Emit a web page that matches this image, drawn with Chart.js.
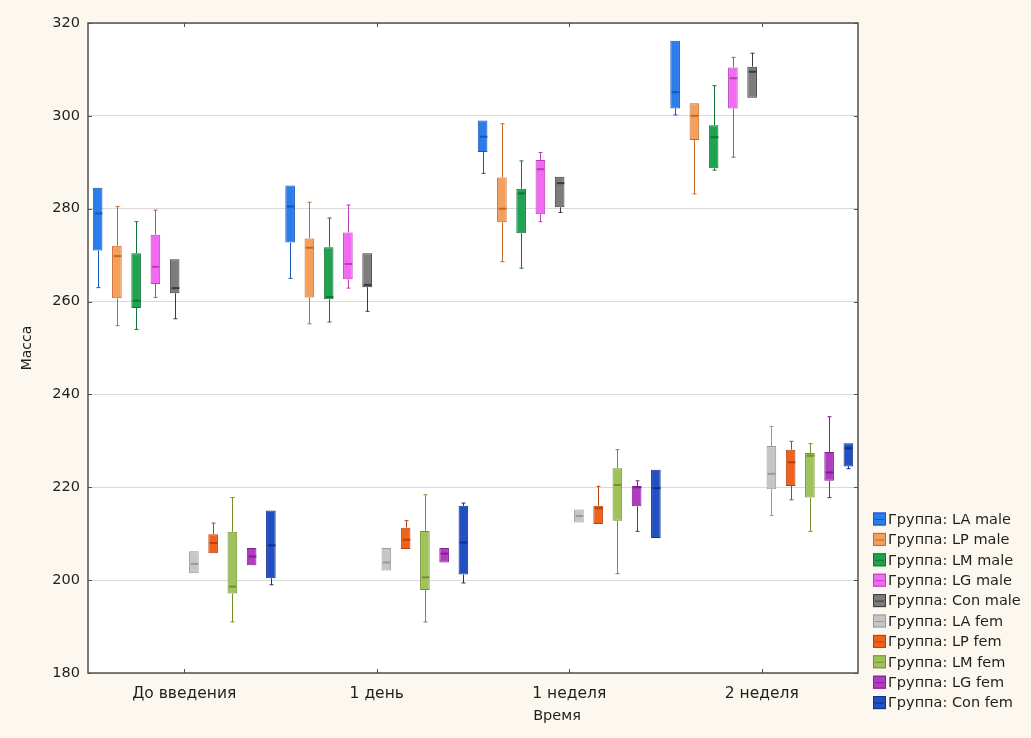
<!DOCTYPE html>
<html>
<head>
<meta charset="utf-8">
<script src="https://cdn.jsdelivr.net/npm/chart.js@4/dist/chart.umd.min.js"></script>
<style>
  html, body { margin: 0; padding: 0; background: #fcf8ef; }
  #wrap { width: 1031px; height: 738px; }
</style>
</head>
<body>
<div id="wrap"><canvas id="massChart" width="1031" height="738"></canvas></div>
<script>
// === Data: each entry is [min, q1, median, q3, max] per time point ===
const timePoints = ['До введения', '1 день', '1 неделя', '2 неделя'];
const yTicks = [180, 200, 220, 240, 260, 280, 300, 320];

const laMale  = [[263, 271, 279, 284.5, 284.5], [265, 272.7, 280.5, 285, 285], [287.6, 292.2, 295.5, 299, 299], [300.2, 301.6, 305.1, 316.2, 316.2]];
const lpMale  = [[254.8, 260.7, 269.8, 272, 280.5], [255.2, 260.9, 271.6, 273.6, 281.4], [268.6, 277.1, 280, 286.7, 298.3], [283.2, 294.8, 300, 302.7, 302.7]];
const lmMale  = [[254, 258.6, 260.2, 270.4, 277.2], [255.6, 260.5, 261, 271.7, 278], [267.2, 274.7, 283.3, 284.3, 290.3], [288.3, 288.7, 295.4, 298, 306.5]];
const lgMale  = [[260.9, 263.8, 267.5, 274.4, 279.7], [262.9, 264.8, 268.1, 274.9, 280.8], [277.2, 278.8, 288.5, 290.5, 292.1], [291.1, 301.6, 308.1, 310.4, 312.6]];
const conMale = [[256.3, 261.8, 262.9, 269.1, 269.1], [257.9, 263.1, 263.6, 270.4, 270.4], [279.2, 280.3, 285.5, 286.9, 286.9], [303.9, 303.9, 309.5, 310.6, 313.5]];
const laFem   = [[201.5, 201.5, 203.5, 206.2, 206.2], [202.1, 202.1, 203.8, 206.9, 206.9], [212.4, 212.4, 213.8, 215.2, 215.2], [213.9, 219.6, 222.9, 228.9, 233.1]];
const lpFem   = [[205.8, 205.8, 208, 209.9, 212.3], [206.7, 206.7, 208.7, 211.3, 212.8], [212.1, 212.1, 215.5, 216, 220.2], [217.3, 220.3, 225.4, 228.1, 229.9]];
const lmFem   = [[191, 197.1, 198.6, 210.4, 217.8], [191, 197.9, 200.6, 210.6, 218.4], [201.4, 212.8, 220.5, 224.1, 228.1], [210.5, 217.8, 226.8, 227.4, 229.4]];
const lgFem   = [[203.2, 203.2, 205.1, 206.9, 206.9], [203.8, 203.8, 205.7, 206.9, 206.9], [210.5, 215.9, 220, 220.3, 221.4], [217.8, 221.4, 223.2, 227.6, 235.2]];
const conFem  = [[199, 200.4, 207.5, 215, 215], [199.4, 201.2, 208.1, 216, 216.6], [209.1, 209.1, 219.8, 223.8, 223.8], [224, 224.5, 228.4, 229.5, 229.5]];

const groupNames = ['Группа: LA male', 'Группа: LP male', 'Группа: LM male', 'Группа: LG male', 'Группа: Con male',
                    'Группа: LA fem', 'Группа: LP fem', 'Группа: LM fem', 'Группа: LG fem', 'Группа: Con fem'];
const groupStats = [laMale, lpMale, lmMale, lgMale, conMale, laFem, lpFem, lmFem, lgFem, conFem];

// Colors
const fillColors   = ['#2a7deb', '#f59f5c', '#1fa351', '#f26af2', '#7c7c7c', '#c6c6c6', '#ef621b', '#a0c25a', '#b03cc0', '#2250c2'];
const strokeColors = ['#1a55b8', '#c8652a', '#137535', '#b83fb8', '#3a3a3a', '#999999', '#b8400e', '#75902f', '#7f1f90', '#102f8c'];

const fontFamily = '"DejaVu Sans", "Liberation Sans", Arial, sans-serif';
const textColor = '#1f1f1f';
const frameColor = '#505050';

// === Plugins ===
const backgroundPlugin = {
    id: 'plotBackground',
    beforeDraw(chart) {
        const { ctx, chartArea } = chart;
        ctx.save();
        ctx.fillStyle = '#fcf8ef';
        ctx.fillRect(0, 0, chart.width, chart.height);
        ctx.fillStyle = '#ffffff';
        ctx.fillRect(chartArea.left, chartArea.top, chartArea.right - chartArea.left, chartArea.bottom - chartArea.top);
        ctx.restore();
    }
};

// Whiskers, caps and medians on top of the floating bars
const whiskerPlugin = {
    id: 'whiskers',
    afterDatasetsDraw(chart) {
        const ctx = chart.ctx;
        const yScale = chart.scales.y;
        chart.data.datasets.forEach((ds, i) => {
            const meta = chart.getDatasetMeta(i);
            meta.data.forEach((bar, j) => {
                const [lo, q1, med, q3, hi] = ds.stats[j];
                const x = Math.round(bar.x) + 0.5;
                const half = bar.width / 2;
                const yLo = yScale.getPixelForValue(lo);
                const yQ1 = yScale.getPixelForValue(q1);
                const yMed = yScale.getPixelForValue(med);
                const yQ3 = yScale.getPixelForValue(q3);
                const yHi = yScale.getPixelForValue(hi);
                ctx.save();
                ctx.strokeStyle = ds.borderColor;
                ctx.lineWidth = 1;
                ctx.beginPath();
                if (hi > q3) {
                    ctx.moveTo(x, yQ3); ctx.lineTo(x, yHi);
                    ctx.moveTo(x - 2, yHi); ctx.lineTo(x + 2, yHi);
                }
                if (lo < q1) {
                    ctx.moveTo(x, yQ1); ctx.lineTo(x, yLo);
                    ctx.moveTo(x - 2, yLo); ctx.lineTo(x + 2, yLo);
                }
                ctx.stroke();
                ctx.lineWidth = 2;
                ctx.beginPath();
                ctx.moveTo(x - half + 1, yMed);
                ctx.lineTo(x + half - 1, yMed);
                ctx.stroke();
                ctx.restore();
            });
        });
    }
};

// Frame with inward tick marks on all four sides, plus the x axis title
const framePlugin = {
    id: 'frame',
    afterDraw(chart) {
        const { ctx, chartArea } = chart;
        const { left, top, right, bottom } = chartArea;
        const xScale = chart.scales.x;
        const yScale = chart.scales.y;
        ctx.save();
        ctx.strokeStyle = frameColor;
        ctx.lineWidth = 1.5;
        ctx.strokeRect(left, top, right - left, bottom - top);
        ctx.lineWidth = 1;
        ctx.beginPath();
        yTicks.forEach(v => {
            const py = Math.round(yScale.getPixelForValue(v)) + 0.5;
            ctx.moveTo(left, py); ctx.lineTo(left + 4, py);
            ctx.moveTo(right, py); ctx.lineTo(right - 4, py);
        });
        timePoints.forEach((t, i) => {
            const px = Math.round(xScale.getPixelForValue(i)) + 0.5;
            ctx.moveTo(px, bottom); ctx.lineTo(px, bottom - 4);
            ctx.moveTo(px, top); ctx.lineTo(px, top + 4);
        });
        ctx.stroke();

        // x axis title sits right of the plot centre in the original
        ctx.font = '14.5px ' + fontFamily;
        ctx.fillStyle = textColor;
        ctx.textAlign = 'center';
        ctx.textBaseline = 'middle';
        ctx.fillText('Время', 557, 716);
        ctx.restore();
    }
};

// Legend in the lower right corner
const legendPlugin = {
    id: 'cornerLegend',
    afterDraw(chart) {
        const ctx = chart.ctx;
        const x0 = chart.chartArea.right + 15;
        const rowH = 20.4;
        const y0 = 519;
        ctx.save();
        ctx.font = '14.5px ' + fontFamily;
        ctx.textBaseline = 'middle';
        chart.data.datasets.forEach((ds, i) => {
            const cy = y0 + i * rowH;
            ctx.fillStyle = ds.backgroundColor;
            ctx.fillRect(x0, cy - 6.5, 13, 13);
            ctx.strokeStyle = ds.borderColor;
            ctx.lineWidth = 1;
            ctx.strokeRect(x0 + 0.5, cy - 6, 12, 12);
            ctx.beginPath();
            ctx.moveTo(x0 + 2, cy + 0.5); ctx.lineTo(x0 + 11, cy + 0.5);
            ctx.stroke();
            ctx.fillStyle = textColor;
            ctx.fillText(ds.label, x0 + 15, cy + 1);
        });
        ctx.restore();
    }
};

// === Chart ===
const datasets = groupStats.map((stats, i) => ({
    label: groupNames[i],
    data: stats.map(s => [s[1], s[3]]),
    stats: stats,
    backgroundColor: fillColors[i],
    borderColor: strokeColors[i],
    borderWidth: 1,
    borderSkipped: false,
    barPercentage: 0.5,
    categoryPercentage: 1.0
}));

const ctxMass = document.getElementById('massChart').getContext('2d');
const massChart = new Chart(ctxMass, {
    type: 'bar',
    data: {
        labels: timePoints,
        datasets: datasets
    },
    options: {
        responsive: false,
        animation: false,
        layout: {
            padding: { left: 0, top: 23, right: 173, bottom: 0 }
        },
        plugins: {
            legend: { display: false },
            tooltip: { enabled: false }
        },
        scales: {
            x: {
                grid: { display: false, drawTicks: false },
                border: { display: false },
                ticks: {
                    color: textColor,
                    padding: 12,
                    font: { family: fontFamily, size: 15.5 }
                },
                afterFit(scale) { scale.height = 65; }
            },
            y: {
                min: 180,
                max: 320,
                afterBuildTicks(scale) {
                    scale.ticks = yTicks.map(v => ({ value: v }));
                },
                grid: { color: '#d9d9d9', lineWidth: 1, drawTicks: false },
                border: { display: false },
                ticks: {
                    color: textColor,
                    padding: 8,
                    font: { family: fontFamily, size: 14.5 }
                },
                title: {
                    display: true,
                    text: 'Масса',
                    color: textColor,
                    padding: { top: 19, bottom: 0 },
                    font: { family: fontFamily, size: 14 }
                },
                afterFit(scale) { scale.width = 88; }
            }
        }
    },
    plugins: [backgroundPlugin, whiskerPlugin, framePlugin, legendPlugin]
});
</script>
</body>
</html>
